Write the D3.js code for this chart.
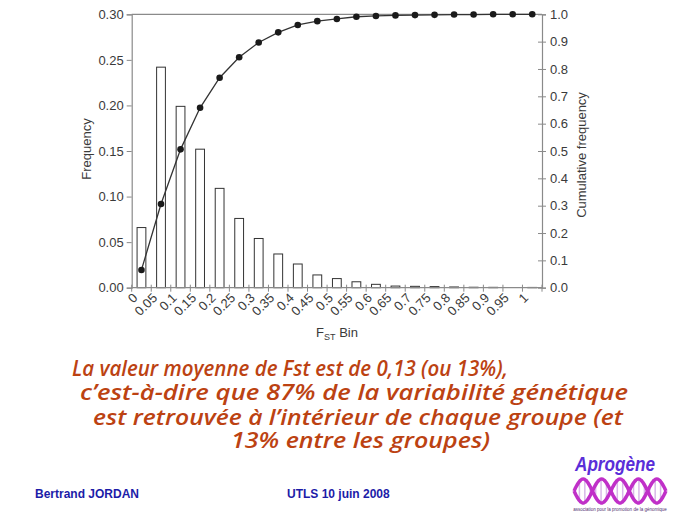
<!DOCTYPE html>
<html><head><meta charset="utf-8">
<script src="https://cdn.jsdelivr.net/npm/d3@7"></script>
<style>body{margin:0;background:#fff}svg{display:block}</style>
</head><body>
<svg id="c" width="689" height="517"></svg>
<script>
const bins = ["0","0.05","0.1","0.15","0.2","0.25","0.3","0.35","0.4","0.45","0.5","0.55","0.6","0.65","0.7","0.75","0.8","0.85","0.9","0.95","1"];
const frequency = [0.066,0.242,0.199,0.152,0.109,0.076,0.054,0.037,0.026,0.014,0.010,0.0065,0.0037,0.0018,0.0015,0.0012,0.0008,0.0005,0.0004,0,0.0003];
const cumulative = [0.065,0.306,0.506,0.658,0.768,0.843,0.897,0.934,0.961,0.975,0.983,0.991,0.994,0.996,0.997,0.998,0.999,0.999,1.0,1.0,1.0];
const leftTicks = [0,0.05,0.10,0.15,0.20,0.25,0.30];
const rightTicks = [0,0.1,0.2,0.3,0.4,0.5,0.6,0.7,0.8,0.9,1.0];
const caption = ["La valeur moyenne de Fst est de 0,13 (ou 13%),","c’est-à-dire que 87% de la variabilité génétique","est retrouvée à l’intérieur de chaque groupe (et","13% entre les groupes)"];

const svg = d3.select("#c");
const L=131.7, R=542, T=14.3, B=287.7;
const axisCol="#8a8a8a", txtCol="#3a3a3a", font="'Liberation Sans', Arial, sans-serif";

const x = d3.scaleBand().domain(bins).range([L,R]).paddingInner(0.55).paddingOuter(0.275);
const xb = d3.scaleLinear().domain([0,bins.length]).range([L,R]);
const yL = d3.scaleLinear().domain([0,0.30]).range([B,T]);
const yR = d3.scaleLinear().domain([0,1]).range([B,T]);

// top frame
svg.append("line").attr("x1",L).attr("x2",R).attr("y1",T).attr("y2",T).attr("stroke",axisCol).attr("stroke-width",1.2);

// bars
svg.append("g").selectAll("rect").data(frequency).join("rect")
  .attr("x",(d,i)=>x(bins[i])).attr("width",x.bandwidth())
  .attr("y",d=>yL(d)).attr("height",d=>B-yL(d))
  .attr("fill","#fff").attr("stroke","#333").attr("stroke-width",1);

// left axis
const gl = svg.append("g").attr("transform",`translate(${L},0)`)
  .call(d3.axisLeft(yL).tickValues(leftTicks).tickFormat(d3.format(".2f")).tickSize(5).tickPadding(3));
// right axis
const gr = svg.append("g").attr("transform",`translate(${R},0)`)
  .call(d3.axisRight(yR).tickValues(rightTicks).tickFormat(d3.format(".1f")).tickSize(4).tickPadding(4));
gr.selectAll(".tick line").attr("x1",-4);
// bottom axis (labels at bin centers, ticks at bin boundaries)
const gb = svg.append("g").attr("transform",`translate(0,${B})`)
  .call(d3.axisBottom(x).tickSize(0).tickPadding(0));
gb.select(".domain").remove();
gb.selectAll(".tick text").attr("text-anchor","end").attr("dy",0)
  .attr("transform","translate(-3,11) rotate(-45)");
svg.append("line").attr("x1",L).attr("x2",R).attr("y1",B).attr("y2",B).attr("stroke",axisCol).attr("stroke-width",1.2);
svg.append("g").selectAll("line").data(d3.range(bins.length+1)).join("line")
  .attr("x1",d=>xb(d)).attr("x2",d=>xb(d)).attr("y1",B-3).attr("y2",B+4)
  .attr("stroke",axisCol).attr("stroke-width",1);

[gl,gr,gb].forEach(g=>{
  g.selectAll(".domain").attr("stroke",axisCol).attr("stroke-width",1.2);
  g.selectAll(".tick line").attr("stroke",axisCol);
  g.selectAll(".tick text").attr("fill",txtCol).attr("font-family",font).attr("font-size",13);
});

// cumulative line
const line = d3.line().x((d,i)=>x(bins[i])+x.bandwidth()/2).y(d=>yR(d));
svg.append("path").datum(cumulative).attr("d",line).attr("fill","none").attr("stroke","#333").attr("stroke-width",1.3);
svg.append("g").selectAll("circle").data(cumulative).join("circle")
  .attr("cx",(d,i)=>x(bins[i])+x.bandwidth()/2).attr("cy",d=>yR(d)).attr("r",3.3).attr("fill","#1a1a1a");

// axis titles
svg.append("text").attr("transform","translate(91,149) rotate(-90)").attr("text-anchor","middle")
  .attr("font-family",font).attr("font-size",13).attr("fill",txtCol).text("Frequency");
svg.append("text").attr("transform","translate(586,155) rotate(-90)").attr("text-anchor","middle")
  .attr("font-family",font).attr("font-size",13).attr("fill",txtCol).text("Cumulative frequency");
const xt = svg.append("text").attr("x",337).attr("y",337).attr("text-anchor","middle")
  .attr("font-family",font).attr("font-size",13).attr("fill",txtCol);
xt.append("tspan").text("F");
xt.append("tspan").attr("font-size",9).attr("dy",3).text("ST");
xt.append("tspan").attr("dy",-3).text(" Bin");

// caption
const capX=[72,80,93,231], capW=[436,548,530,259], capY=[376,400,425,448];
svg.append("g").selectAll("text").data(caption).join("text")
  .attr("x",(d,i)=>capX[i]).attr("y",(d,i)=>capY[i])
  .attr("textLength",(d,i)=>capW[i]).attr("lengthAdjust","spacingAndGlyphs")
  .attr("font-family","'Comic Sans MS','Open Sans','DejaVu Sans',sans-serif").attr("font-style","italic")
  .attr("font-weight",600).attr("font-size",22).attr("fill","#bc4212").text(d=>d);

// footer
svg.append("text").attr("x",35).attr("y",498).attr("font-family",font).attr("font-weight","bold")
  .attr("font-size",12).attr("fill","#1c1ca8").text("Bertrand JORDAN");
svg.append("text").attr("x",287).attr("y",498).attr("font-family",font).attr("font-weight","bold")
  .attr("font-size",12).attr("fill","#1c1ca8").text("UTLS 10 juin 2008");

// logo
const lg = svg.append("g");
const hx = d3.scaleLinear().domain([0,1]).range([574,666]);
const waves = [0,Math.PI];
for(let k=0;k<18;k++){
  const t=k/17, a=Math.sin(t*Math.PI*5);
  lg.append("line").attr("x1",hx(t)).attr("x2",hx(t)).attr("y1",491-a*12).attr("y2",491+a*12)
    .attr("stroke","#d8b8e8").attr("stroke-width",1.5);
}
waves.forEach(ph=>{
  const pts=d3.range(0,1.001,0.01).map(t=>[hx(t),491-Math.sin(t*Math.PI*5+ph)*12]);
  lg.append("path").attr("d",d3.line().curve(d3.curveBasis)(pts)).attr("fill","none")
    .attr("stroke","#c030c8").attr("stroke-width",3.5);
});
lg.append("text").attr("x",575).attr("y",471).attr("font-family",font).attr("font-style","italic")
  .attr("font-weight","bold").attr("font-size",21).attr("fill","#5a2ed8").attr("textLength",80)
  .attr("lengthAdjust","spacingAndGlyphs").text("Aprogène");
lg.append("text").attr("x",620).attr("y",511).attr("text-anchor","middle").attr("font-family",font)
  .attr("font-size",4.5).attr("fill","#503070").text("association pour la promotion de la génomique");
</script>
</body></html>
